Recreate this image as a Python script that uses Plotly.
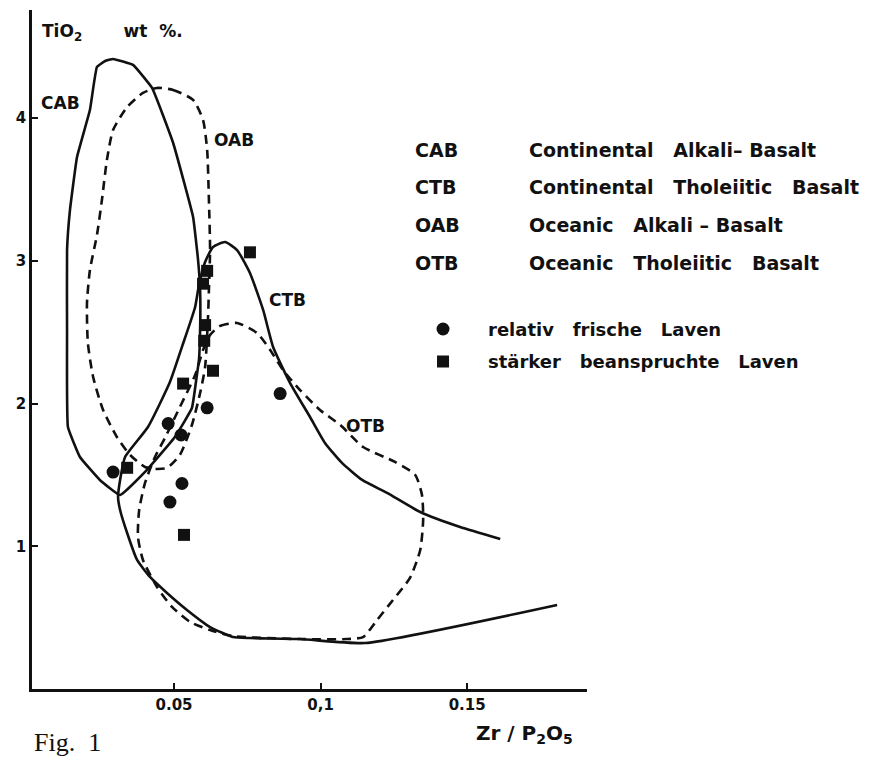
import plotly.graph_objects as go

# ---- field boundaries (Zr/P2O5 , TiO2 wt %) ----
cab_x = [0.0292, 0.0360, 0.0425, 0.0497, 0.0565, 0.0582, 0.0589, 0.0589, 0.0585, 0.0578,
         0.0561, 0.0503, 0.0401, 0.0316, 0.0247, 0.0179, 0.0138, 0.0135, 0.0135, 0.0145,
         0.0169, 0.0213, 0.0237, 0.0265, 0.0292]
cab_y = [4.415, 4.373, 4.212, 3.826, 3.308, 3.006, 2.796, 2.516, 2.306, 2.200,
         1.969, 1.766, 1.521, 1.359, 1.465, 1.626, 1.836, 2.516, 3.076, 3.357,
         3.728, 4.057, 4.359, 4.401, 4.415]

ctb_x = [0.1613, 0.1476, 0.1340, 0.1227, 0.1142, 0.1073, 0.1015, 0.0964, 0.0896, 0.0838,
         0.0804, 0.0759, 0.0715, 0.0674, 0.0633, 0.0606, 0.0585, 0.0572, 0.0527, 0.0486,
         0.0411, 0.0333, 0.0316, 0.0309, 0.0316, 0.0340, 0.0374, 0.0418, 0.0476, 0.0544,
         0.0623, 0.0701, 0.0759, 0.0930, 0.1152, 0.1807]
ctb_y = [1.051, 1.135, 1.240, 1.374, 1.465, 1.584, 1.724, 1.906, 2.144, 2.397,
         2.656, 2.915, 3.076, 3.132, 3.097, 2.992, 2.831, 2.677, 2.397, 2.151,
         1.836, 1.626, 1.465, 1.345, 1.254, 1.093, 0.904, 0.785, 0.673, 0.554,
         0.434, 0.364, 0.357, 0.350, 0.322, 0.589]

oab_x = [0.0442, 0.0497, 0.0565, 0.0599, 0.0613, 0.0619, 0.0623, 0.0619, 0.0616, 0.0606,
         0.0589, 0.0561, 0.0520, 0.0476, 0.0435, 0.0401, 0.0350, 0.0305, 0.0258, 0.0224,
         0.0206, 0.0203, 0.0213, 0.0237, 0.0254, 0.0271, 0.0292, 0.0340, 0.0394, 0.0442]
oab_y = [4.212, 4.198, 4.128, 3.987, 3.777, 3.427, 3.076, 2.796, 2.607, 2.256,
         2.074, 1.850, 1.640, 1.549, 1.542, 1.556, 1.640, 1.766, 1.955, 2.186,
         2.425, 2.705, 2.936, 3.181, 3.427, 3.707, 3.917, 4.078, 4.177, 4.212]

otb_x = [0.0623, 0.0657, 0.0715, 0.0783, 0.0828, 0.0872, 0.0930, 0.0998, 0.1067, 0.1145,
         0.1254, 0.1323, 0.1346, 0.1350, 0.1340, 0.1305, 0.1247, 0.1193, 0.1145, 0.1090,
         0.0930, 0.0701, 0.0623, 0.0555, 0.0493, 0.0442, 0.0394, 0.0377, 0.0381, 0.0401,
         0.0435, 0.0469, 0.0520, 0.0572, 0.0599, 0.0623]
otb_y = [2.481, 2.544, 2.565, 2.495, 2.376, 2.235, 2.095, 1.955, 1.850, 1.696,
         1.591, 1.500, 1.359, 1.184, 0.974, 0.778, 0.624, 0.484, 0.364, 0.350,
         0.350, 0.371, 0.413, 0.470, 0.575, 0.715, 0.904, 1.065, 1.254, 1.444,
         1.626, 1.759, 1.976, 2.200, 2.376, 2.481]

# ---- samples ----
fresh_x = [0.0292, 0.0480, 0.0524, 0.0613, 0.0862, 0.0527, 0.0486]
fresh_y = [1.52, 1.86, 1.78, 1.97, 2.07, 1.44, 1.31]
altered_x = [0.0340, 0.0531, 0.0633, 0.0606, 0.0603, 0.0599, 0.0613, 0.0759, 0.0534]
altered_y = [1.55, 2.14, 2.23, 2.55, 2.44, 2.84, 2.93, 3.06, 1.08]

x_ticks = [0.05, 0.1, 0.15]
x_ticktext = ["0.05", "0,1", "0.15"]
y_ticks = [1, 2, 3, 4]

field_labels = ["CAB", "OAB", "CTB", "OTB"]
field_label_x = [0.0111, 0.0705, 0.0886, 0.1152]
field_label_y = [4.106, 3.847, 2.726, 1.843]

abbrev = ["CAB", "CTB", "OAB", "OTB"]
descr = ["Continental\u00a0\u00a0 Alkali\u2013 Basalt",
         "Continental\u00a0\u00a0 Tholeiitic\u00a0\u00a0 Basalt",
         "Oceanic\u00a0\u00a0 Alkali \u2013 Basalt",
         "Oceanic\u00a0\u00a0 Tholeiitic\u00a0\u00a0 Basalt"]

FONT = "DejaVu Sans, Liberation Sans, sans-serif"
BLACK = "#111111"

fig = go.Figure()
solid = dict(color=BLACK, width=2.6)
dashed = dict(color=BLACK, width=2.6, dash="9px,6px")

fig.add_trace(go.Scatter(x=cab_x, y=cab_y, mode="lines", line=dict(**solid, shape="spline", smoothing=0.3),
                         showlegend=False, hoverinfo="skip"))
fig.add_trace(go.Scatter(x=ctb_x, y=ctb_y, mode="lines", line=dict(**solid, shape="spline", smoothing=0.5),
                         showlegend=False, hoverinfo="skip"))
fig.add_trace(go.Scatter(x=oab_x, y=oab_y, mode="lines", line=dict(**dashed, shape="spline", smoothing=0.6),
                         showlegend=False, hoverinfo="skip"))
fig.add_trace(go.Scatter(x=otb_x, y=otb_y, mode="lines", line=dict(**dashed, shape="spline", smoothing=0.6),
                         showlegend=False, hoverinfo="skip"))

fig.add_trace(go.Scatter(x=fresh_x, y=fresh_y, mode="markers", name="relativ\u00a0\u00a0 frische\u00a0\u00a0 Laven",
                         marker=dict(symbol="circle", size=13, color=BLACK), legendgroup="a"))
fig.add_trace(go.Scatter(x=altered_x, y=altered_y, mode="markers", name="st\u00e4rker\u00a0\u00a0 beanspruchte\u00a0\u00a0 Laven",
                         marker=dict(symbol="square", size=12, color=BLACK), legendgroup="b"))

for t, x, y in zip(field_labels, field_label_x, field_label_y):
    fig.add_annotation(x=x, y=y, text=t, showarrow=False, xref="x", yref="y",
                       font=dict(family=FONT, size=17, color=BLACK, weight="bold"))

row_y = [0.7938, 0.7393, 0.6834, 0.6274]
for a, d, y in zip(abbrev, descr, row_y):
    fig.add_annotation(x=0.6865, y=y, text=a, showarrow=False, xref="paper", yref="paper",
                       xanchor="left", yanchor="middle",
                       font=dict(family=FONT, size=19, color=BLACK, weight="bold"))
    fig.add_annotation(x=0.892, y=y, text=d, showarrow=False, xref="paper", yref="paper",
                       xanchor="left", yanchor="middle",
                       font=dict(family=FONT, size=19, color=BLACK, weight="bold"))

fig.add_annotation(x=0.0043, y=4.597, xref="x", yref="y", xanchor="left", yanchor="middle",
                   text="TiO<sub>2</sub>\u00a0\u00a0\u00a0\u00a0\u00a0\u00a0 wt\u00a0 %.", showarrow=False,
                   font=dict(family=FONT, size=17, color=BLACK, weight="bold"))
fig.add_annotation(x=0.888, y=-0.066, xref="paper", yref="paper", xanchor="center", yanchor="middle",
                   text="Zr / P<sub>2</sub>O<sub>5</sub>", showarrow=False,
                   font=dict(family=FONT, size=20, color=BLACK, weight="bold"))
fig.add_annotation(x=0.0, y=-0.1025, xref="paper", yref="paper", xanchor="left", yanchor="bottom",
                   text="Fig.\u00a0 1", showarrow=False,
                   font=dict(family="Liberation Serif, Times New Roman, serif", size=26, color=BLACK))

fig.update_layout(
    width=887, height=759,
    margin=dict(l=32, r=300, t=10, b=70),
    paper_bgcolor="white", plot_bgcolor="white",
    showlegend=True,
    legend=dict(x=0.6595, y=0.557, xanchor="left", yanchor="top", bgcolor="rgba(0,0,0,0)",
                font=dict(family=FONT, size=18, color=BLACK, weight="bold"),
                tracegroupgap=6, itemwidth=80),
    xaxis=dict(range=[0.00154, 0.1909], showline=True, linecolor=BLACK, linewidth=2.5,
               showgrid=False, zeroline=False, ticks="inside", ticklen=6, tickwidth=2,
               tickcolor=BLACK, tickvals=x_ticks, ticktext=x_ticktext,
               tickfont=dict(family=FONT, size=15, color=BLACK, weight="bold")),
    yaxis=dict(range=[0, 4.758], showline=True, linecolor=BLACK, linewidth=2.5,
               showgrid=False, zeroline=False, ticks="inside", ticklen=6, tickwidth=2,
               tickcolor=BLACK, tickvals=y_ticks,
               tickfont=dict(family=FONT, size=15, color=BLACK, weight="bold")),
)

fig.write_html("out.html")
